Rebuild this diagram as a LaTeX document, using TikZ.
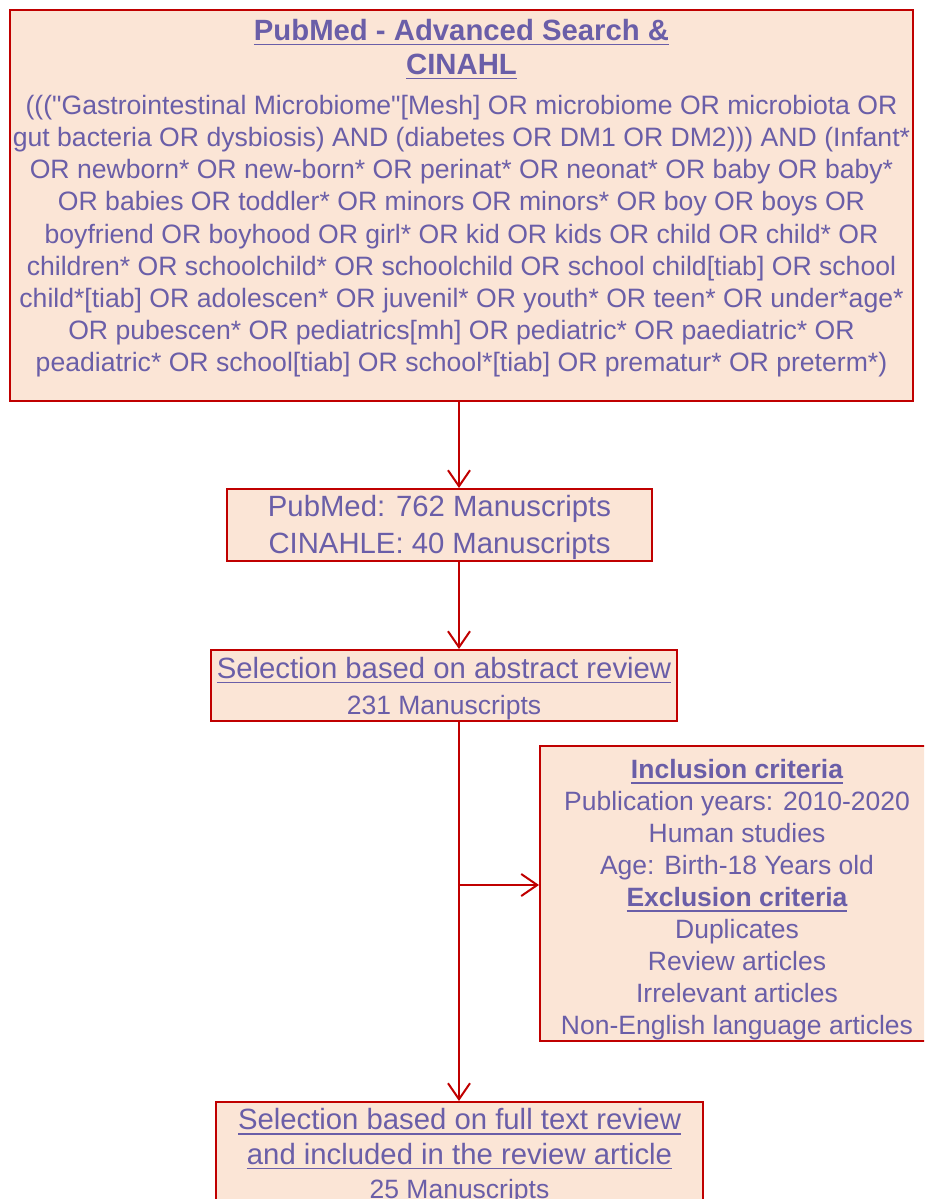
\documentclass[tikz,border=0pt]{standalone}
\usepackage{fontspec}
\setmainfont{Liberation Sans}
\usetikzlibrary{arrows.meta}
\definecolor{bxfill}{HTML}{FBE5D6}
\definecolor{bxline}{HTML}{C00000}
\definecolor{txt}{HTML}{6A5EA8}
\newcommand\fbig{\fontsize{29.3}{36}\selectfont}
\newcommand\fsmall{\fontsize{26.5}{32}\selectfont}
\newsavebox\myulbox
\newcommand\myul[1]{\mbox{\sbox\myulbox{#1}\rlap{\usebox\myulbox}\rule[-5pt]{\wd\myulbox}{1.6pt}}}
\begin{document}
\begin{tikzpicture}[x=1pt,y=-1pt,
  box/.style={draw=bxline, fill=bxfill, line width=2pt, inner sep=0pt},
  lbl/.style={inner sep=0pt, align=center, text=txt},
  arr/.style={draw=bxline, line width=2pt, -{Straight Barb[length=16pt,width=22pt,line width=2pt]}}]
\useasboundingbox (0,0) rectangle (924,1199);
\clip (0,0) rectangle (924,1199);

% boxes
\node[box, minimum width=903pt, minimum height=391pt] (top) at (461.5,205.5) {};
\node[box, minimum width=425pt, minimum height=72pt] (found) at (439.5,525) {};
\node[box, minimum width=466pt, minimum height=71pt] (abs) at (444,685.5) {};
\node[box, minimum width=420pt, minimum height=295pt] (crit) at (750,893.5) {};
\node[box, minimum width=487pt, minimum height=110pt] (full) at (459.5,1157) {};

% texts
\node[lbl, font=\fontsize{29.3}{34}\selectfont\bfseries] (topT) at (461.5,49.3)
{\myul{PubMed - Advanced Search \&}\\\myul{CINAHL}};
\node[lbl, font=\fontsize{26.6}{32.1}\selectfont] (topB) at (461.5,236.2)
{(((\textquotedbl Gastrointestinal Microbiome\textquotedbl[Mesh] OR microbiome OR microbiota OR\\
gut bacteria OR dysbiosis) AND (diabetes OR DM1 OR DM2))) AND (Infant*\\
OR newborn* OR new-born* OR perinat* OR neonat* OR baby OR baby*\\
OR babies OR toddler* OR minors OR minors* OR boy OR boys OR\\
boyfriend OR boyhood OR girl* OR kid OR kids OR child OR child* OR\\
children* OR schoolchild* OR schoolchild OR school child[tiab] OR school\\
child*[tiab] OR adolescen* OR juvenil* OR youth* OR teen* OR under*age*\\
OR pubescen* OR pediatrics[mh] OR pediatric* OR paediatric* OR\\
peadiatric* OR school[tiab] OR school*[tiab] OR prematur* OR preterm*)};

\node[lbl, font=\fontsize{29.3}{37}\selectfont] (foundT) at (439.5,527.5)
{PubMed: 762 Manuscripts\\CINAHLE: 40 Manuscripts};

\node[lbl, font=\fbig] (absT) at (444,688.5)
{\myul{Selection based on abstract review}\\{\fsmall 231 Manuscripts}};

\node[lbl, font=\fsmall] (critT) at (737,900)
{\textbf{\myul{Inclusion criteria}}\\
Publication years: 2010-2020\\
Human studies\\
Age: Birth-18 Years old\\
\textbf{\myul{Exclusion criteria}}\\
Duplicates\\
Review articles\\
Irrelevant articles\\
Non-English language articles};

\node[lbl, font=\fontsize{29.3}{34.5}\selectfont] (fullT) at (459.5,1156.5)
{\myul{Selection based on full text review}\\
\myul{and included in the review article}\\
{\fsmall 25 Manuscripts}};

% connectors
\coordinate (spine) at (459,0);
\coordinate (branch) at (459,885);
\draw[arr] (top.south -| spine) -- (found.north -| spine);
\draw[arr] (found.south -| spine) -- (abs.north -| spine);
\draw[arr] (abs.south -| spine) -- (full.north -| spine);
\draw[arr] (branch) -- (crit.west |- branch);
\end{tikzpicture}
\end{document}
